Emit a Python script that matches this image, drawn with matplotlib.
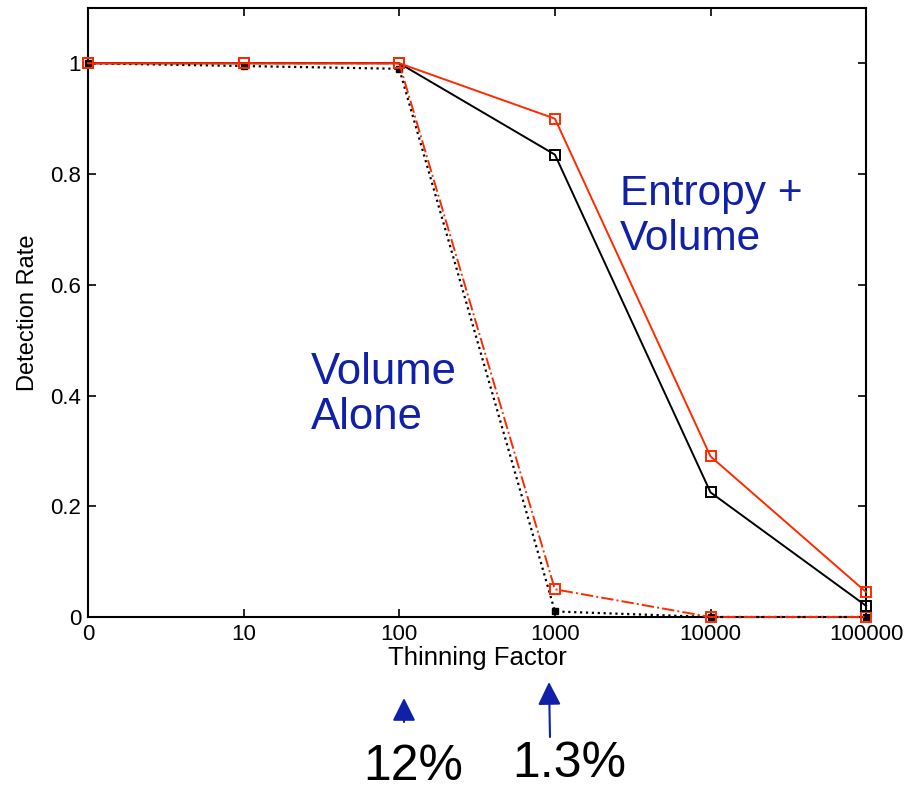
import numpy as np
import matplotlib
matplotlib.use('Agg')
import matplotlib.pyplot as plt

plt.rcParams['font.family'] = ['Liberation Sans', 'DejaVu Sans']

# thinning factors are shown on equally spaced positions
thinning = ['0', '10', '100', '1000', '10000', '100000']
ent_vol_red = [1.0, 1.0, 1.0, 0.90, 0.29, 0.045]
ent_vol_black = [1.0, 1.0, 1.0, 0.835, 0.225, 0.02]
vol_red = [1.0, 1.0, 1.0, 0.05, 0.0, 0.0]
vol_black = [1.0, 0.995, 0.99, 0.01, 0.0, 0.0]

blue = '#1020a8'
x = np.arange(len(thinning))

fig = plt.figure(figsize=(9.07, 7.89), dpi=100)
ax = fig.add_axes([0.097, 0.218, 0.858, 0.772])

ax.plot(x, vol_black, color='black', linestyle=':', lw=1.6, clip_on=False,
        marker='s', ms=5, mfc='black', mec='black', zorder=3)
ax.plot(x, vol_red, color='#ff2a00', linestyle='-.', lw=1.4, clip_on=False,
        marker='s', ms=7, mfc='none', mec='#ff2a00', mew=1.4, zorder=3)
ax.plot(x, ent_vol_black, color='black', linestyle='-', lw=1.4, clip_on=False,
        marker='s', ms=7, mfc='none', mec='black', mew=1.4, zorder=3)
ax.plot(x, ent_vol_red, color='#ff2a00', linestyle='-', lw=1.4, clip_on=False,
        marker='s', ms=7, mfc='none', mec='#ff2a00', mew=1.4, zorder=3)

ax.set_xlim(0, 5)
ax.set_ylim(0, 1.1)
ax.set_xticks(x)
ax.set_xticklabels(thinning)
ax.set_yticks([0, 0.2, 0.4, 0.6, 0.8, 1.0])
ax.set_yticklabels(['0', '0.2', '0.4', '0.6', '0.8', '1'])
ax.tick_params(direction='in', length=6, width=1.2, top=True, right=True,
               labelsize=16, pad=5)
for s in ax.spines.values():
    s.set_linewidth(1.5)
ax.set_xlabel('Thinning Factor', fontsize=18.5, labelpad=1)
ax.set_ylabel('Detection Rate', fontsize=17, labelpad=8)

ax.text(3.42, 0.80, 'Entropy +\nVolume', color=blue, fontsize=30.5,
        va='top', ha='left', linespacing=1.15)
ax.text(1.43, 0.478, 'Volume\nAlone', color=blue, fontsize=31.5,
        va='top', ha='left', linespacing=1.1)

# percentages under the axis with pointers
arrow = dict(arrowstyle='-|>,head_length=1.0,head_width=0.5', color=blue,
             lw=1.5, mutation_scale=14, shrinkA=0, shrinkB=0)
ax.annotate('', xy=(404, 91), xytext=(404, 67), xycoords='figure pixels',
            textcoords='figure pixels', arrowprops=arrow)
ax.annotate('', xy=(549, 107), xytext=(550, 52), xycoords='figure pixels',
            textcoords='figure pixels', arrowprops=arrow)
fig.text(363 / 907, 1 - 780 / 789, '12%', fontsize=36, ha='left', va='baseline')
fig.text(512 / 907, 1 - 777 / 789, '1.3%', fontsize=36, ha='left', va='baseline')

fig.savefig('out.png', dpi=100)
